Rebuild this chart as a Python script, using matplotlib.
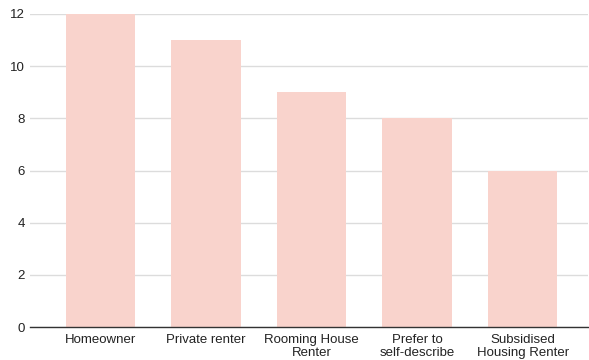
import matplotlib.pyplot as plt

plt.rcParams['font.family'] = ['Liberation Sans', 'DejaVu Sans']

categories = ['Homeowner', 'Private renter', 'Rooming House\nRenter',
              'Prefer to\nself-describe', 'Subsidised\nHousing Renter']
counts = [12, 11, 9, 8, 6]

BAR_COLOR = '#f9d3cc'

fig = plt.figure(figsize=(5.89, 3.6), dpi=100)
ax = fig.add_axes([30 / 589, 1 - 327 / 360, 558 / 589, 313 / 360])

x = range(len(categories))
ax.bar(x, counts, width=0.66, color=BAR_COLOR, zorder=2)

ax.set_xlim(-0.67, 4.62)
ax.set_ylim(0, 12)
ax.set_yticks(range(0, 13, 2))
ax.set_xticks(list(x))
ax.set_xticklabels(categories, fontsize=9.5, color='#222222', linespacing=1.1)
ax.tick_params(axis='y', labelsize=9.5, labelcolor='#222222', length=0, pad=3.5)
ax.tick_params(axis='x', length=0, pad=5)

ax.yaxis.grid(True, color='#dcdcdc', linewidth=1, zorder=0)
ax.set_axisbelow(True)
for side in ['top', 'right', 'left']:
    ax.spines[side].set_visible(False)
ax.spines['bottom'].set_color('#333333')
ax.spines['bottom'].set_linewidth(1)
ax.spines['bottom'].set_zorder(3)

fig.savefig('out.png', dpi=100)
